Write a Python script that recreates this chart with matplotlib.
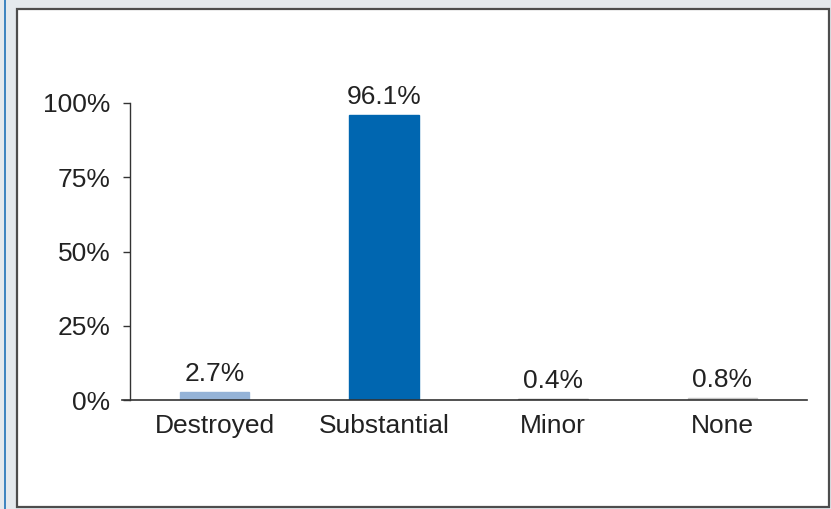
import numpy as np
import matplotlib.pyplot as plt
from matplotlib.patches import Rectangle
from matplotlib.lines import Line2D

plt.rcParams['font.family'] = ['Liberation Sans', 'DejaVu Sans']

categories = ['Destroyed', 'Substantial', 'Minor', 'None']
values = [2.7, 96.1, 0.4, 0.8]
labels = ['2.7%', '96.1%', '0.4%', '0.8%']
colors = ['#95b3d7', '#0066b0', '#7f7f7f', '#c6c6c6']
yticks = [0, 25, 50, 75, 100]

W, H = 831, 509
fig = plt.figure(figsize=(W / 100, H / 100), dpi=100)
fig.patch.set_facecolor('#e4e9ed')

# white panel with dark frame, blue line on the left
fig.patches.append(Rectangle((17 / W, 2 / H), 812 / W, 498 / H, transform=fig.transFigure,
                             facecolor='white', edgecolor='#4d4d4d', linewidth=1.6, zorder=-2))
fig.lines.append(Line2D([4.5 / W, 4.5 / W], [0, 1], transform=fig.transFigure,
                        color='#1f72b8', linewidth=1.2, zorder=-1))

ax = fig.add_axes([130 / W, (H - 400) / H, 677 / W, 297 / H])
ax.set_facecolor('none')
x = np.arange(len(categories))
ax.bar(x, values, width=0.41, color=colors, edgecolor=colors, linewidth=1.0, zorder=2)
for xi, v, lab in zip(x, values, labels):
    ax.annotate(lab, (xi, v), xytext=(0, 4), textcoords='offset points',
                ha='center', va='bottom', fontsize=19, color='#222222')

ax.set_xlim(-0.5, 3.5)
ax.set_ylim(0, 100)
ax.set_yticks(yticks)
ax.set_yticklabels([f'{t}%' for t in yticks], fontsize=19, color='#222222')
ax.set_xticks(x)
ax.set_xticklabels(categories, fontsize=19, color='#222222')
ax.tick_params(axis='x', length=0, pad=10)
ax.tick_params(axis='y', length=5, width=1, color='#333333', pad=9)
ax.spines['top'].set_visible(False)
ax.spines['right'].set_visible(False)
ax.spines['left'].set_color('#333333')
ax.spines['bottom'].set_color('#333333')
ax.spines['bottom'].set_bounds(-0.5 - 8 / 169.25, 3.5)
ax.spines['left'].set_linewidth(1)
ax.spines['bottom'].set_linewidth(1.2)

fig.savefig('out.png', dpi=100)
